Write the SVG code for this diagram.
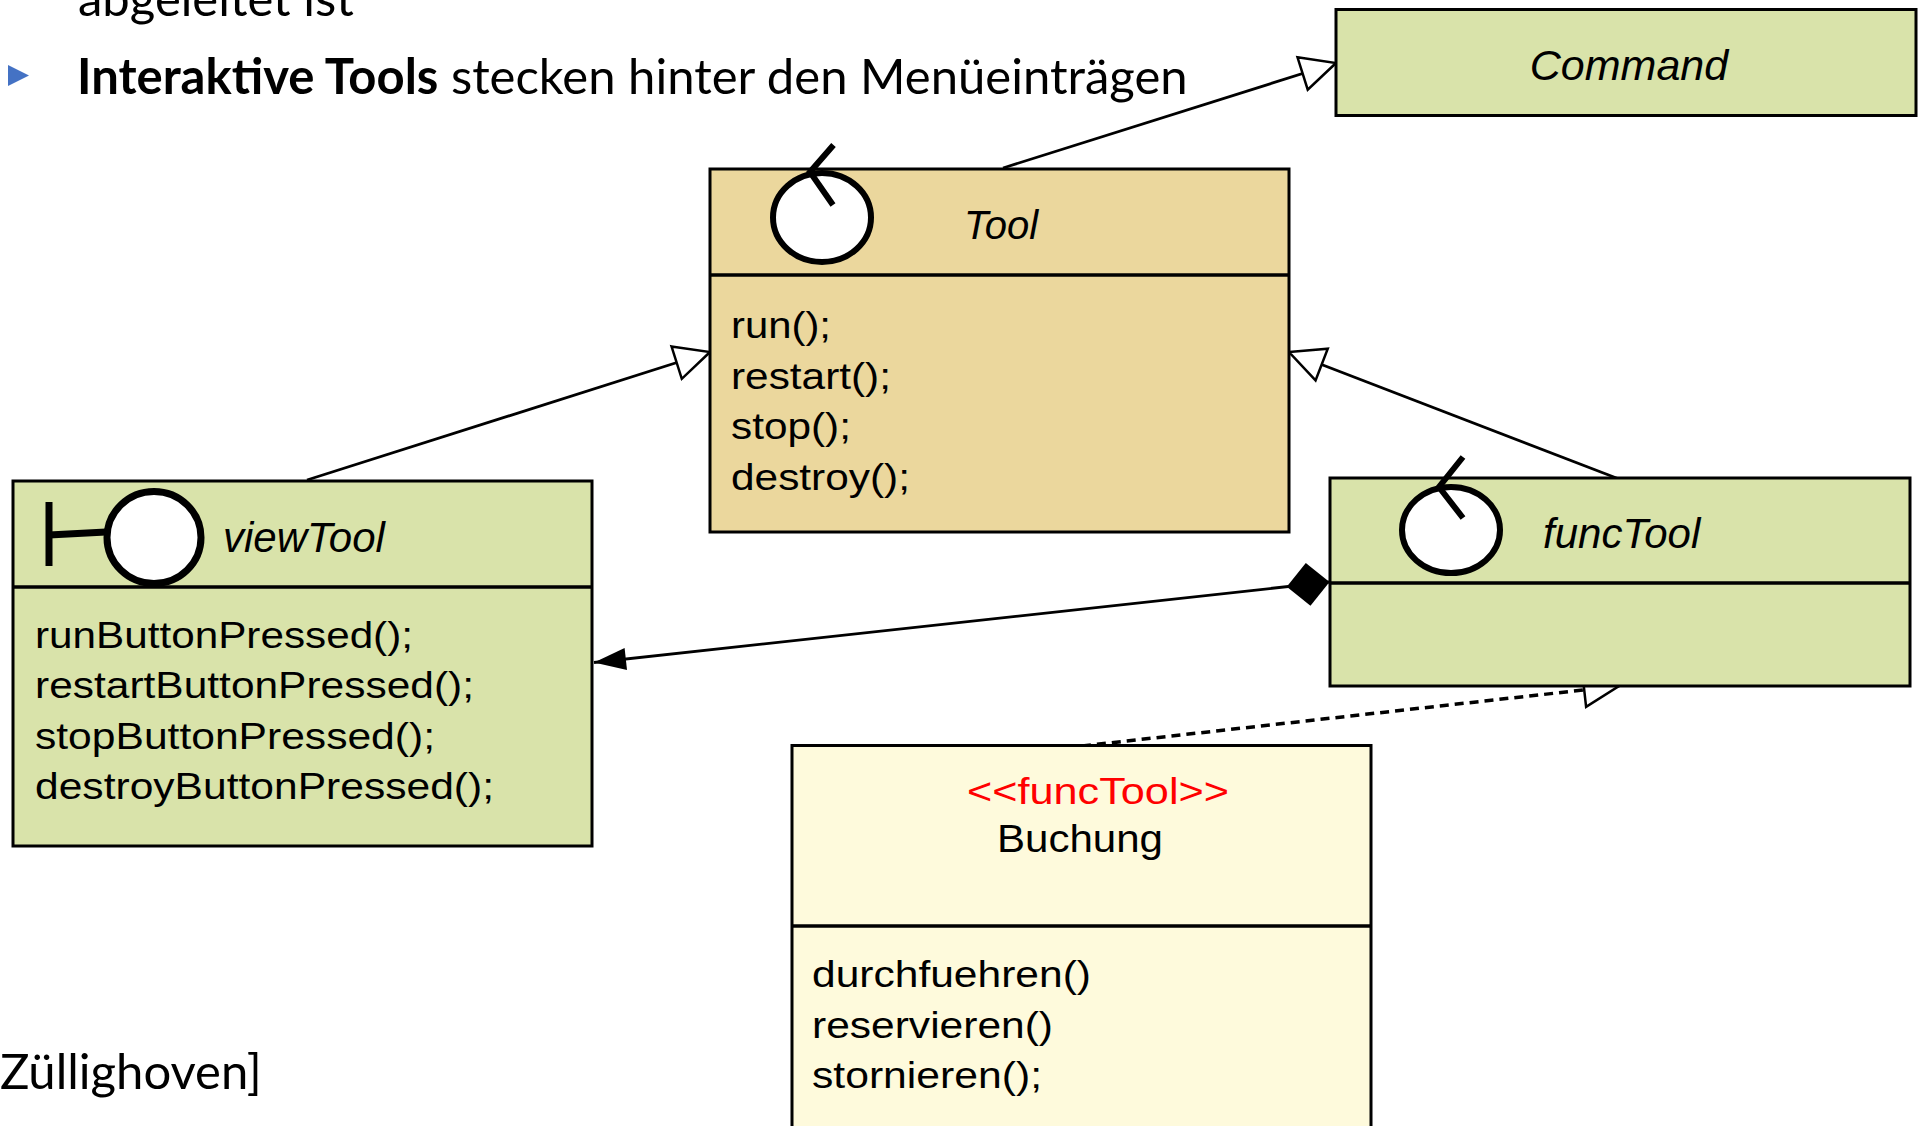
<svg xmlns="http://www.w3.org/2000/svg" width="1921" height="1126" viewBox="0 0 1921 1126">
<style>
.box{stroke:#000;stroke-width:3}
.tool{fill:#EBD79D}
.green{fill:#D9E3AA}
.buch{fill:#FEFADC}
.div{stroke:#000;stroke-width:3.5;fill:none}
.icon{fill:#fff;stroke:#000;stroke-width:6}
.ico{fill:none;stroke:#000;stroke-width:6}
.title{font-family:"Liberation Sans",Arial,Helvetica,sans-serif;font-style:italic;font-size:42px;fill:#000}
.mem{font-family:"Liberation Sans",Arial,Helvetica,sans-serif;font-size:36.5px;fill:#000}
.slide{font-family:Lato,"Open Sans","Noto Sans",sans-serif;font-size:49px;fill:#000}
.conn{fill:none;stroke:#000;stroke-width:2.8}
.dash{stroke-dasharray:9 6;stroke-width:3.5}
</style>
<defs>
<marker id="gen" viewBox="0 0 35 34" refX="35" refY="17" markerWidth="35" markerHeight="34" markerUnits="userSpaceOnUse" orient="auto" overflow="visible">
<path d="M0,0 L35,17 L0,34 Z" fill="#fff" stroke="#000" stroke-width="2.5" stroke-dasharray="none"/>
</marker>
<marker id="arrowFilled" viewBox="0 0 32 22" refX="32" refY="11" markerWidth="32" markerHeight="22" markerUnits="userSpaceOnUse" orient="auto" overflow="visible">
<path d="M0,0 L32,11 L0,22 Z" fill="#000"/>
</marker>
<marker id="diamond" viewBox="0 0 43 43" refX="43" refY="21.5" markerWidth="43" markerHeight="43" markerUnits="userSpaceOnUse" orient="auto-start-reverse" overflow="visible">
<path d="M0,21.5 L21.5,0 L43,21.5 L21.5,43 Z" fill="#000"/>
</marker>
</defs>

<rect width="1921" height="1126" fill="#fff"/>

<g id="slide-text">
<text class="slide" x="78" y="16">abgeleitet ist</text>
<polygon points="8,65 29,75.5 8,86" fill="#4472C4"/>
<text class="slide" x="77" y="94"><tspan font-weight="bold">Interaktive Tools</tspan> stecken hinter den Menüeinträgen</text>
<text class="slide" x="0" y="1089">Züllighoven]</text>
</g>

<g id="connectors">
<path class="conn" d="M1003,168 L1336,63" marker-end="url(#gen)"/>
<path class="conn" d="M307,480 L710,352" marker-end="url(#gen)"/>
<path class="conn" d="M1619,479 L1289,352" marker-end="url(#gen)"/>
<path class="conn dash" d="M1082,746 L1619,686" marker-end="url(#gen)"/>
<path class="conn" d="M1329.5,582 L594,662.5" marker-start="url(#diamond)" marker-end="url(#arrowFilled)"/>
</g>

<g id="Command">
<rect class="box green" x="1336" y="9.5" width="580" height="106"/>
<text class="title" x="1629" y="80" style="font-size:43px" text-anchor="middle">Command</text>
</g>

<g id="Tool">
<rect class="box tool" x="710" y="169" width="579" height="363"/>
<line class="div" x1="710" y1="275" x2="1289" y2="275"/>
<ellipse class="icon" cx="822" cy="217.5" rx="49" ry="44.5"/>
<polyline class="ico" points="833.5,145 810,172 833,205"/>
<text class="title" x="964" y="239" style="font-size:40px">Tool</text>
<text class="mem" x="731" y="338" textLength="100" lengthAdjust="spacingAndGlyphs">run();</text>
<text class="mem" x="731" y="389" textLength="160" lengthAdjust="spacingAndGlyphs">restart();</text>
<text class="mem" x="731" y="439" textLength="120" lengthAdjust="spacingAndGlyphs">stop();</text>
<text class="mem" x="731" y="490" textLength="179" lengthAdjust="spacingAndGlyphs">destroy();</text>
</g>

<g id="viewTool">
<rect class="box green" x="13" y="481" width="579" height="365"/>
<line class="div" x1="13" y1="587" x2="592" y2="587"/>
<line x1="49" y1="502" x2="49" y2="566" stroke="#000" stroke-width="7"/>
<line x1="49" y1="535" x2="106" y2="532" stroke="#000" stroke-width="7"/>
<ellipse class="icon" cx="154" cy="537.5" rx="47" ry="46" style="stroke-width:7"/>
<text class="title" x="223" y="552">viewTool</text>
<text class="mem" x="35" y="648" textLength="378" lengthAdjust="spacingAndGlyphs">runButtonPressed();</text>
<text class="mem" x="35" y="698" textLength="439" lengthAdjust="spacingAndGlyphs">restartButtonPressed();</text>
<text class="mem" x="35" y="749" textLength="400" lengthAdjust="spacingAndGlyphs">stopButtonPressed();</text>
<text class="mem" x="35" y="799" textLength="459" lengthAdjust="spacingAndGlyphs">destroyButtonPressed();</text>
</g>

<g id="funcTool">
<rect class="box green" x="1330" y="478" width="580" height="208"/>
<line class="div" x1="1330" y1="583" x2="1910" y2="583"/>
<ellipse class="icon" cx="1451" cy="530" rx="49" ry="43"/>
<polyline class="ico" points="1463,457 1439,487 1463,518"/>
<text class="title" x="1543" y="548">funcTool</text>
</g>

<g id="Buchung">
<rect class="box buch" x="792" y="745.5" width="579" height="400"/>
<line class="div" x1="792" y1="926" x2="1371" y2="926"/>
<text class="mem" x="1098" y="804" text-anchor="middle" style="fill:#FF0000" textLength="262" lengthAdjust="spacingAndGlyphs">&lt;&lt;funcTool&gt;&gt;</text>
<text class="mem" x="1080" y="852" text-anchor="middle" style="font-size:38px" textLength="166" lengthAdjust="spacingAndGlyphs">Buchung</text>
<text class="mem" x="812" y="987" textLength="279" lengthAdjust="spacingAndGlyphs">durchfuehren()</text>
<text class="mem" x="812" y="1038" textLength="241" lengthAdjust="spacingAndGlyphs">reservieren()</text>
<text class="mem" x="812" y="1088" textLength="230" lengthAdjust="spacingAndGlyphs">stornieren();</text>
</g>
</svg>
